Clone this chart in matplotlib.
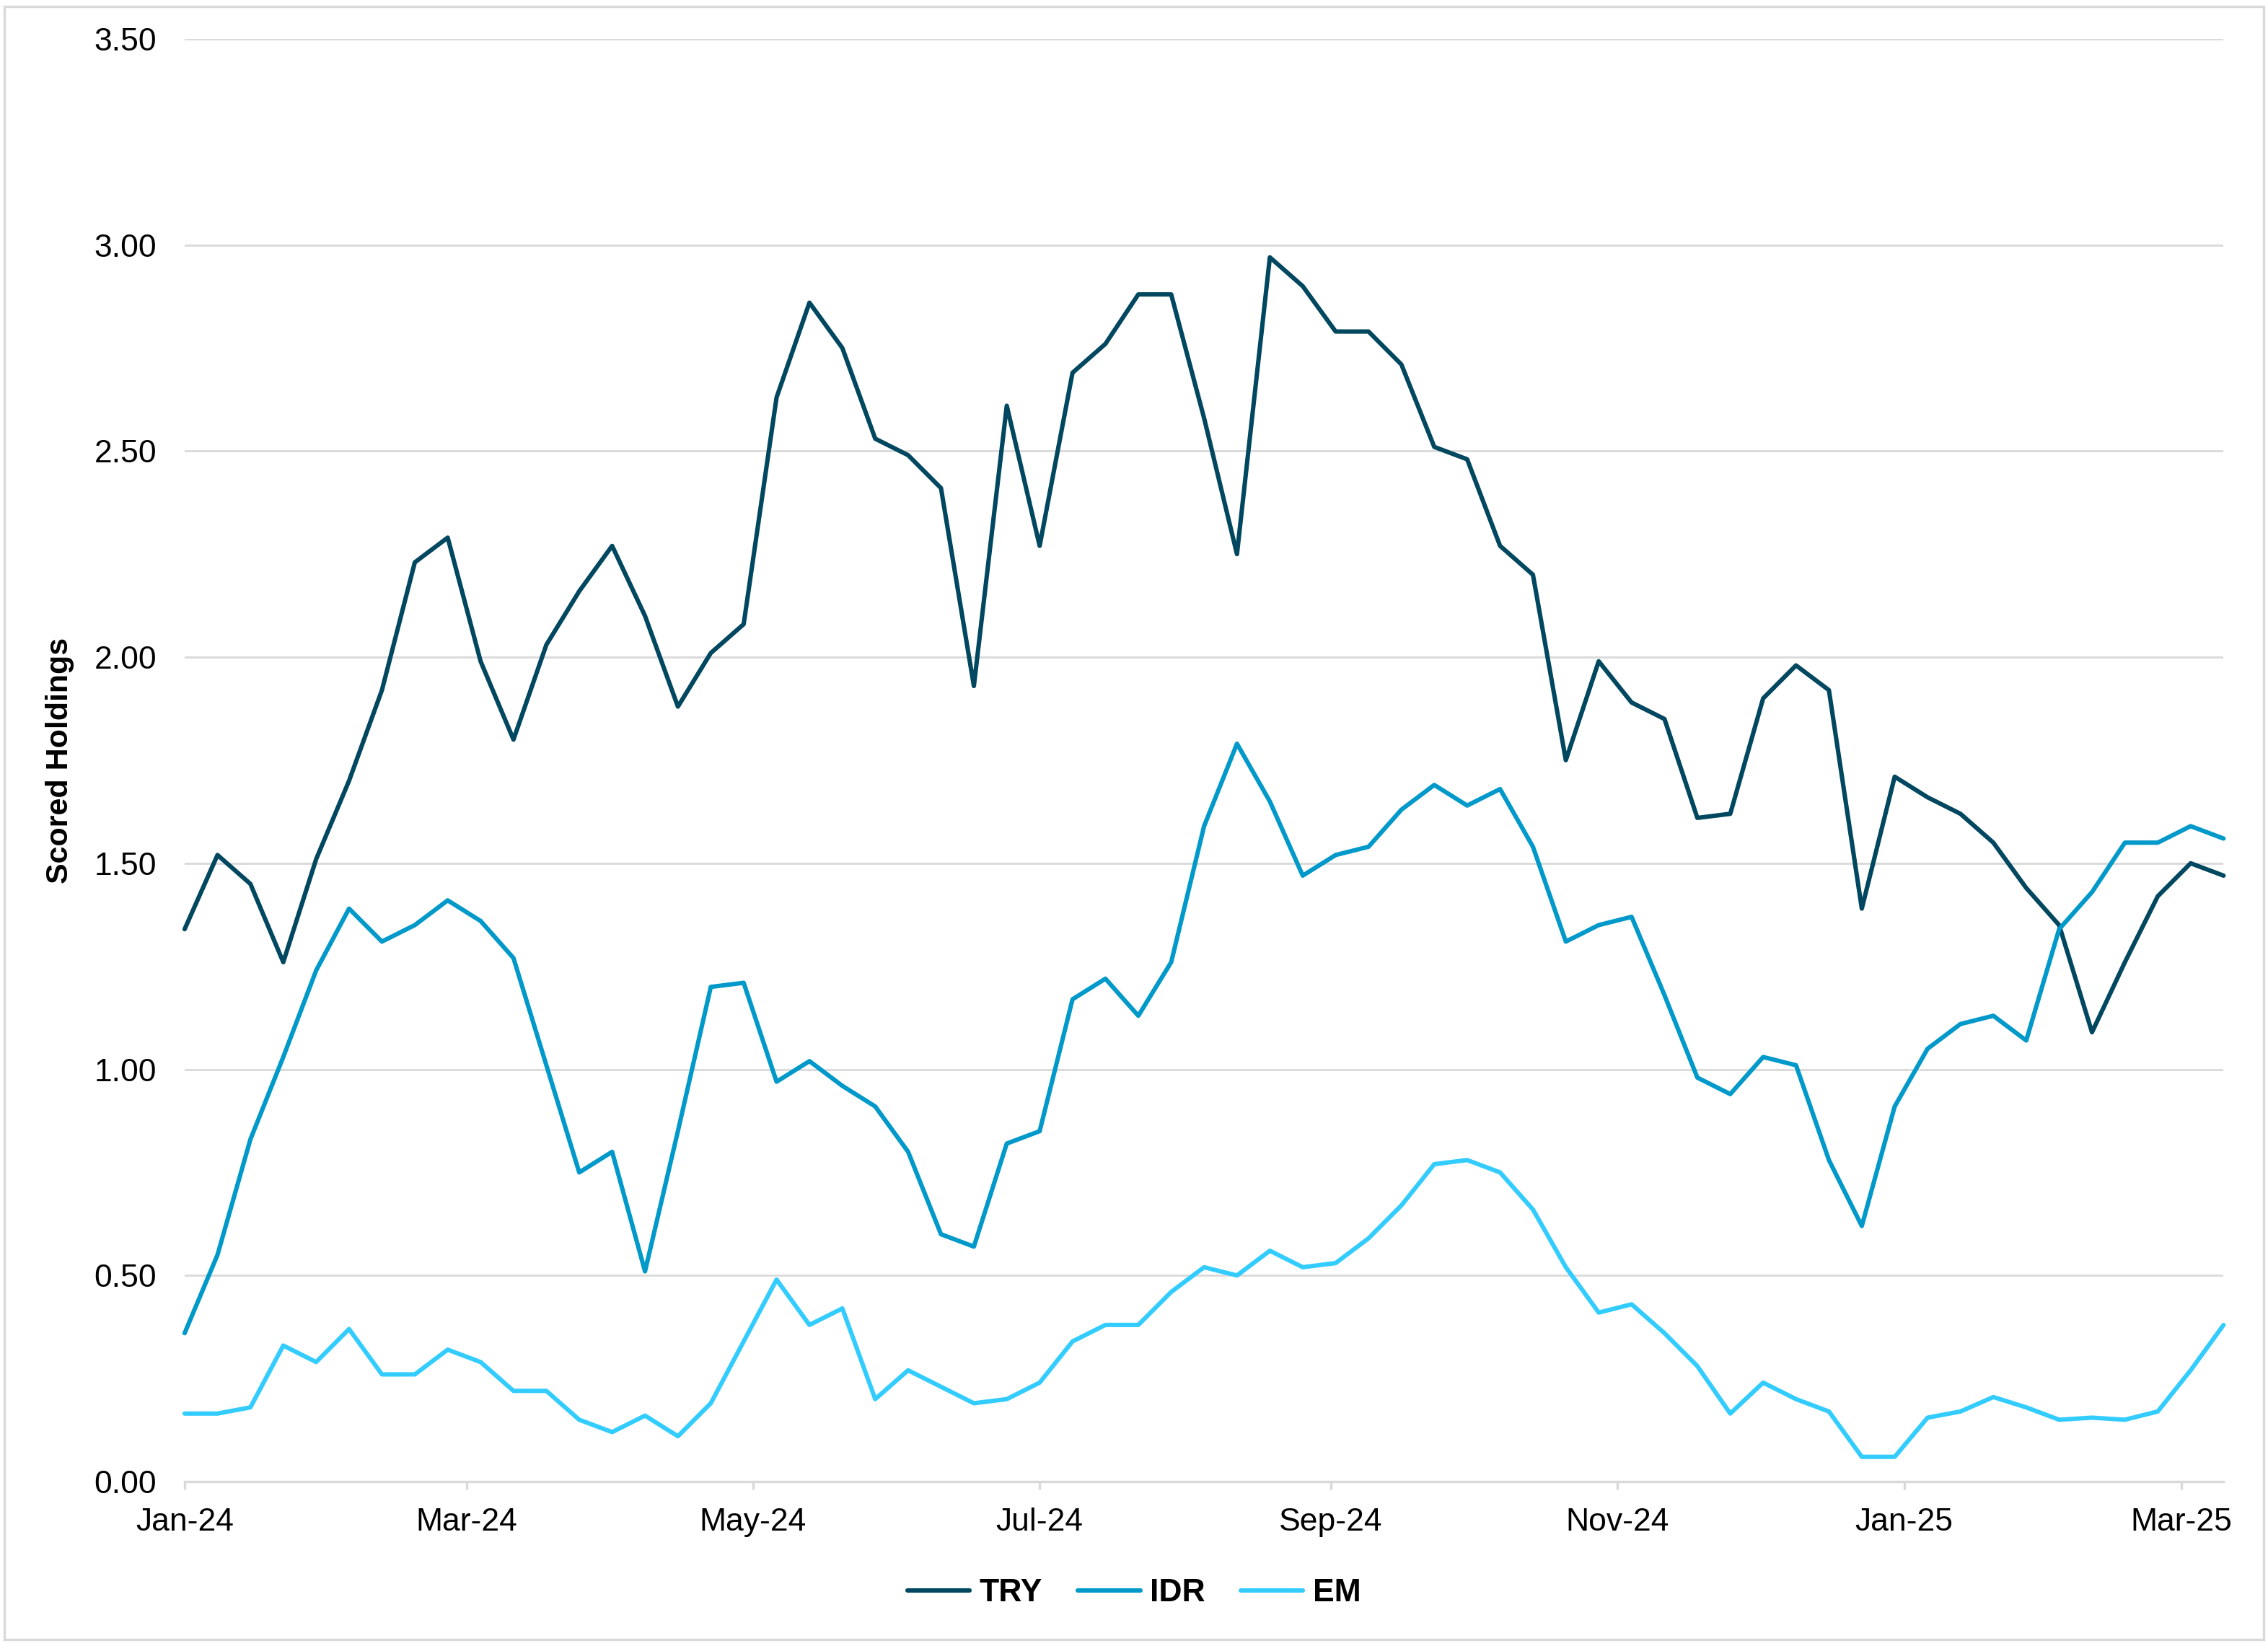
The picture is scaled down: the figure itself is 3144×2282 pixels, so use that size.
import matplotlib
matplotlib.use('Agg')
import matplotlib.pyplot as plt
import matplotlib.dates as mdates
from matplotlib.patches import Rectangle
from matplotlib.ticker import FormatStrFormatter
import pandas as pd

plt.rcParams['font.family'] = ['Liberation Sans', 'DejaVu Sans']

# ── weekly data ──
dates = pd.date_range('2024-01-05', periods=63, freq='7D')

try_vals = [1.34, 1.52, 1.45, 1.26, 1.51, 1.70, 1.92, 2.23, 2.29, 1.99,
            1.80, 2.03, 2.16, 2.27, 2.10, 1.88, 2.01, 2.08, 2.63, 2.86,
            2.75, 2.53, 2.49, 2.41, 1.93, 2.61, 2.27, 2.69, 2.76, 2.88,
            2.88, 2.58, 2.25, 2.97, 2.90, 2.79, 2.79, 2.71, 2.51, 2.48,
            2.27, 2.20, 1.75, 1.99, 1.89, 1.85, 1.61, 1.62, 1.90, 1.98,
            1.92, 1.39, 1.71, 1.66, 1.62, 1.55, 1.44, 1.35, 1.09, 1.26,
            1.42, 1.50, 1.47]

idr_vals = [0.36, 0.55, 0.83, 1.03, 1.24, 1.39, 1.31, 1.35, 1.41, 1.36,
            1.27, 1.01, 0.75, 0.80, 0.51, 0.85, 1.20, 1.21, 0.97, 1.02,
            0.96, 0.91, 0.80, 0.60, 0.57, 0.82, 0.85, 1.17, 1.22, 1.13,
            1.26, 1.59, 1.79, 1.65, 1.47, 1.52, 1.54, 1.63, 1.69, 1.64,
            1.68, 1.54, 1.31, 1.35, 1.37, 1.18, 0.98, 0.94, 1.03, 1.01,
            0.78, 0.62, 0.91, 1.05, 1.11, 1.13, 1.07, 1.34, 1.43, 1.55,
            1.55, 1.59, 1.56]

em_vals = [0.165, 0.165, 0.18, 0.33, 0.29, 0.37, 0.26, 0.26, 0.32, 0.29,
           0.22, 0.22, 0.15, 0.12, 0.16, 0.11, 0.19, 0.34, 0.49, 0.38,
           0.42, 0.20, 0.27, 0.23, 0.19, 0.20, 0.24, 0.34, 0.38, 0.38,
           0.46, 0.52, 0.50, 0.56, 0.52, 0.53, 0.59, 0.67, 0.77, 0.78,
           0.75, 0.66, 0.52, 0.41, 0.43, 0.36, 0.28, 0.165, 0.24, 0.20,
           0.17, 0.06, 0.06, 0.155, 0.17, 0.205, 0.18, 0.15, 0.155, 0.15,
           0.17, 0.27, 0.38]

series = [('TRY', try_vals, '#00475F'),
          ('IDR', idr_vals, '#0099C9'),
          ('EM', em_vals, '#33CCFF')]

tick_dates = [dates[0] + pd.DateOffset(months=2 * k) for k in range(8)]

fig = plt.figure(figsize=(15.72, 11.41), dpi=200)
ax = fig.add_axes([0.0814, 0.0999, 0.899, 0.8765])

for name, vals, col in series:
    ax.plot(dates, vals, color=col, lw=2.2, label=name, clip_on=False,
            solid_joinstyle='round', solid_capstyle='round')

ax.set_ylim(0, 3.5)
ax.set_yticks([0, 0.5, 1.0, 1.5, 2.0, 2.5, 3.0, 3.5])
ax.yaxis.set_major_formatter(FormatStrFormatter('%.2f'))
ax.set_xlim(dates[0], dates[-1])
ax.set_xticks(tick_dates)
ax.xaxis.set_major_formatter(mdates.DateFormatter('%b-%y'))

ax.grid(axis='y', color='#D9D9D9', lw=1.0)
ax.set_axisbelow(True)
for s in ['top', 'right', 'left']:
    ax.spines[s].set_visible(False)
ax.spines['bottom'].set_color('#D9D9D9')
ax.spines['bottom'].set_linewidth(1.2)
ax.tick_params(axis='y', length=0, pad=14, labelsize=16)
ax.tick_params(axis='x', length=4, width=1.2, color='#D9D9D9', pad=9, labelsize=16)

ax.set_ylabel('Scored Holdings', fontsize=15.5, fontweight='bold', labelpad=10)

fig.legend(loc='center', bbox_to_anchor=(0.5, 0.032), ncol=3, frameon=False,
           prop={'size': 16, 'weight': 'bold'}, handlelength=1.95,
           handletextpad=0.3, columnspacing=1.1)

fig.patches.append(Rectangle((0.002, 0.004), 0.996, 0.992, transform=fig.transFigure,
                             fill=False, edgecolor='#D9D9D9', lw=1.2))

fig.savefig('out.png', dpi=200)
